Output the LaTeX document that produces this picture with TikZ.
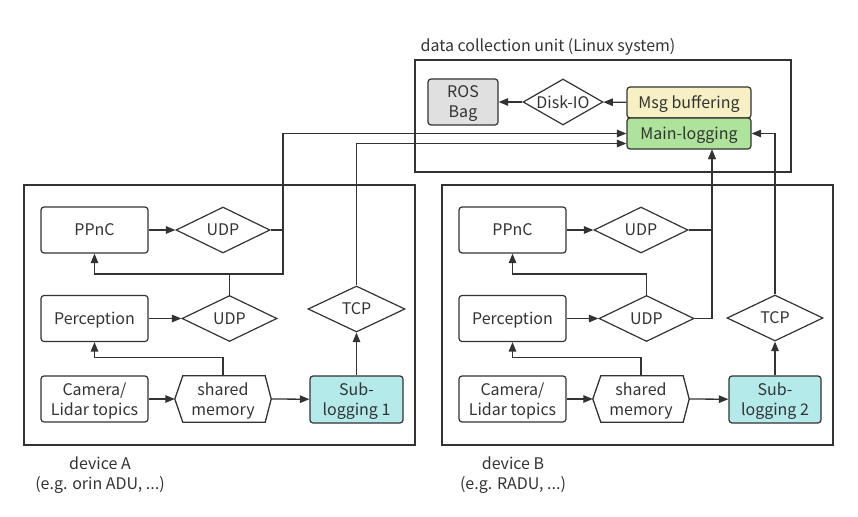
\documentclass[tikz,border=0pt]{standalone}
\usepackage{fontspec}
\setmainfont{Noto Sans CJK SC}
\usetikzlibrary{shapes.geometric,arrows.meta}
\definecolor{ln}{HTML}{333333}
\definecolor{txt}{HTML}{333333}
\definecolor{gry}{HTML}{E0E0E0}
\definecolor{yel}{HTML}{F6F0C4}
\definecolor{grn}{HTML}{AEE39B}
\definecolor{tea}{HTML}{B4EAEA}
\begin{document}
\begin{tikzpicture}[x=1pt,y=-1pt,
  every node/.style={font=\fontsize{16}{20}\selectfont, text=txt, text depth=0pt},
  box/.style={draw=ln, rounded corners=3pt, line width=1.2pt, minimum width=107pt, minimum height=46pt, align=center, inner sep=0pt},
  dia/.style={draw=ln, diamond, aspect=2, line width=1.2pt, inner sep=0pt, minimum width=94pt, minimum height=46pt},
  hexa/.style={inner sep=0pt, minimum width=96pt, minimum height=46pt, align=center},
  conn/.style={draw=ln, line width=1.3pt},
  arr/.style={conn, -{Triangle[length=9.5pt,width=7.5pt]}},
  frame/.style={draw=ln, line width=1.3pt}
]
\useasboundingbox (0,0) rectangle (858,516);

% frames
\draw[frame] (415,60) rectangle (791,172);
\draw[frame] (24,185) rectangle (415,445);
\draw[frame] (442,185) rectangle (833,445);
\node (dculbl) at (548,45) {data collection unit (Linux system)};
\node[align=center] (devAlbl) at (100,473) {device A\\(e.g. orin ADU, ...)};
\node[align=center] (devBlbl) at (513,473) {device B\\(e.g. RADU, ...)};

% data collection unit
\node[box, fill=gry, minimum width=70pt] (ros) at (463,102) {ROS\\Bag};
\node[dia, minimum width=80pt] (disk) at (563,102) {Disk-IO};
\node[box, fill=yel, minimum width=124pt, minimum height=31pt] (msg) at (689,102.5) {Msg buffering};
\node[box, fill=grn, minimum width=124pt, minimum height=31pt] (main) at (689,133.5) {Main-logging};
\draw[arr] (msg) -- (disk);
\draw[arr] (disk) -- (ros);

% device A
\node[box] (ppncA) at (94.5,230) {PPnC};
\node[dia] (udpA1) at (223,230) {UDP};
\node[box] (percA) at (94.5,318.5) {Perception};
\node[dia, minimum width=95pt] (udpA2) at (229.5,318.5) {UDP};
\node[dia, minimum width=97pt] (tcpA) at (356.5,309) {TCP};
\node[box] (camA) at (94.5,399) {Camera/\\Lidar topics};
\node[hexa] (shmA) at (223,399) {shared\\memory};
\node[box, fill=tea, minimum width=93pt, minimum height=47pt] (subA) at (356.5,399.5) {Sub-\\logging 1};
\draw[conn] ([xshift=8pt]shmA.north west) -- ([xshift=-6pt]shmA.north east) -- (shmA.east) -- ([xshift=-6pt]shmA.south east) -- ([xshift=8pt]shmA.south west) -- (shmA.west) -- cycle;

\draw[arr] (ppncA) -- (udpA1);
\draw[arr] (percA) -- (udpA2);
\draw[arr] (camA) -- (shmA.west);
\draw[arr] (shmA.east) -- (subA);
\draw[arr] (subA) -- (tcpA);
\draw[arr] (shmA.north) -- ++(0,-18) -| (percA.south);
\coordinate (jA) at (283,274);
\draw[arr] (udpA2.north) -- (udpA2.north |- jA) -| (ppncA.south);
\draw[conn] (udpA2.north |- jA) -- (jA) -- (udpA1.east -| jA);
\draw[arr] (udpA1.east) -- (udpA1.east -| jA) |- (main.west);
\draw[arr] (tcpA.north) |- ([yshift=-10pt]main.west);

% device B
\node[box] (ppncB) at (512.5,230) {PPnC};
\node[dia] (udpB1) at (641,230) {UDP};
\node[box] (percB) at (512.5,318.5) {Perception};
\node[dia, minimum width=95pt] (udpB2) at (646.5,318.5) {UDP};
\node[dia, minimum width=96pt] (tcpB) at (775,318) {TCP};
\node[box] (camB) at (512.5,399) {Camera/\\Lidar topics};
\node[hexa] (shmB) at (641,399) {shared\\memory};
\node[box, fill=tea, minimum width=92pt, minimum height=47pt] (subB) at (775,399.5) {Sub-\\logging 2};
\draw[conn] ([xshift=8pt]shmB.north west) -- ([xshift=-6pt]shmB.north east) -- (shmB.east) -- ([xshift=-6pt]shmB.south east) -- ([xshift=8pt]shmB.south west) -- (shmB.west) -- cycle;

\draw[arr] (ppncB) -- (udpB1);
\draw[arr] (percB) -- (udpB2);
\draw[arr] (camB) -- (shmB.west);
\draw[arr] (shmB.east) -- (subB);
\draw[arr] (subB) -- (tcpB);
\draw[arr] (shmB.north) -- ++(0,-18) -| (percB.south);
\draw[arr] (udpB2.north) -- ++(0,-21) -| (ppncB.south);
\coordinate (jB) at (712,318.5);
\draw[arr] (udpB2.east) -- (jB) -- (jB |- main.south);
\draw[arr] (udpB1.east) -| (jB |- main.south);
\draw[arr] (tcpB.north) |- (main.east);
\end{tikzpicture}
\end{document}
